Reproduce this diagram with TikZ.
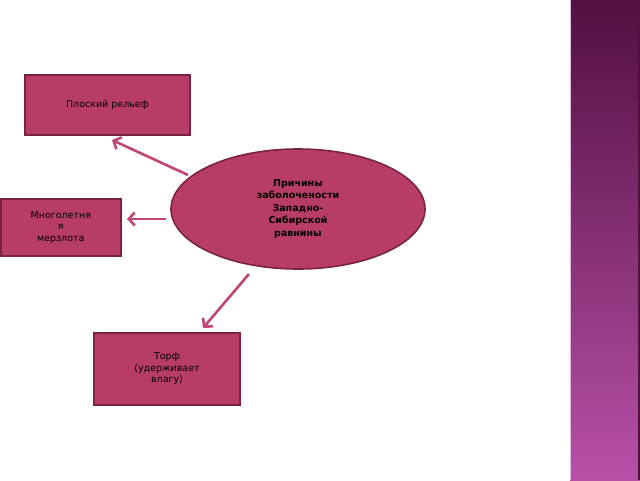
\documentclass[tikz,border=0pt]{standalone}
\usepackage{fontspec}
\setmainfont{DejaVu Sans}
\usetikzlibrary{shapes.geometric,arrows.meta}
\definecolor{boxfill}{HTML}{B83C68}
\definecolor{boxline}{HTML}{7A2242}
\definecolor{arr}{HTML}{C04674}
\definecolor{stripTop}{HTML}{52103F}
\definecolor{stripBot}{HTML}{B850A8}
\begin{document}
\begin{tikzpicture}[x=1pt,y=-1pt,
  box/.style={draw=boxline,line width=1.6pt,fill=boxfill,align=center,font=\fontsize{9.5}{11.5}\selectfont,inner sep=2pt},
  conn/.style={draw=arr,line width=2.6pt,-{Straight Barb[length=6pt,width=13pt]}}]
\useasboundingbox (0,0) rectangle (640,480);
\fill[white] (0,0) rectangle (640,480);
\shade[top color=stripTop,bottom color=stripBot] (570,0) rectangle (640,480);
\draw[white!60!stripBot,line width=0.8pt] (570.5,0) -- (570.5,480);
\draw[stripTop,line width=1.5pt] (639,0) -- (639,480);
\node[box,minimum width=165pt,minimum height=60pt] (a) at (107.5,105) {Плоский рельеф};
\node[box,minimum width=120pt,minimum height=57pt,anchor=north west,text width=114pt,inner sep=1pt] (b) at (0,198) {Многолетня\\я\\мерзлота\\[-4pt]};
\node[box,minimum width=146pt,minimum height=72pt,text width=136pt] (c) at (167,369) {Торф\\(удерживает\\влагу)};
\node[box,ellipse,minimum width=254pt,minimum height=120pt,font=\bfseries\fontsize{9.5}{12.5}\selectfont] (e) at (298,209) {Причины\\заболочености\\Западно-\\Сибирской\\равнины};
\coordinate (s1) at (188,175); \coordinate (t1) at (112,140);
\coordinate (s2) at (166,219); \coordinate (t2) at (127,219);
\coordinate (s3) at (249,274); \coordinate (t3) at (203,328);
\draw[conn] (s1) -- (t1);
\draw[conn] (s2) -- (t2);
\draw[conn] (s3) -- (t3);
\end{tikzpicture}
\end{document}
